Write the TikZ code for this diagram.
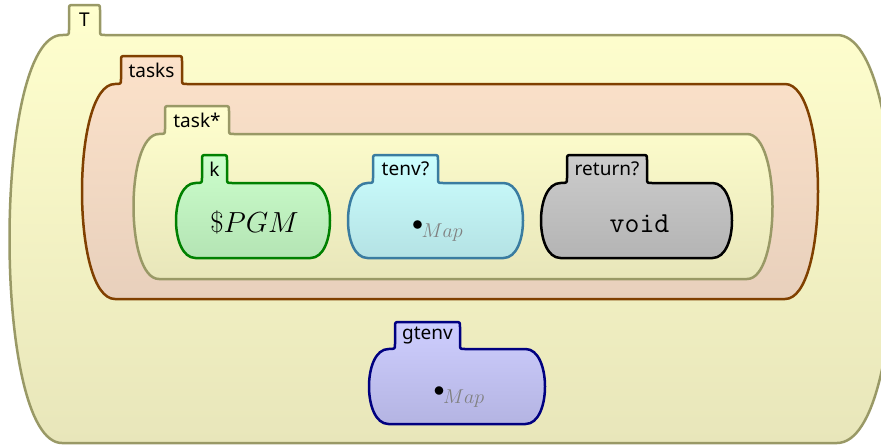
\RequirePackage{fix-cm}
\documentclass[tikz,border=0pt]{standalone}
\usepackage{fontspec}
\setsansfont{Noto Sans}
\definecolor{olivestroke}{RGB}{153,153,102}
\definecolor{yellowtop}{RGB}{255,255,206}
\definecolor{yellowbot}{RGB}{232,230,186}
\definecolor{brownstroke}{RGB}{128,64,0}
\definecolor{peachtop}{RGB}{252,226,202}
\definecolor{peachbot}{RGB}{232,208,188}
\definecolor{greenstroke}{RGB}{0,128,0}
\definecolor{greentop}{RGB}{204,255,204}
\definecolor{greenbot}{RGB}{180,228,180}
\definecolor{bluestroke}{RGB}{58,124,160}
\definecolor{cyantop}{RGB}{204,255,255}
\definecolor{cyanbot}{RGB}{180,226,228}
\definecolor{graytop}{RGB}{204,204,204}
\definecolor{graybot}{RGB}{180,180,180}
\definecolor{navystroke}{RGB}{0,0,128}
\definecolor{lavtop}{RGB}{206,206,255}
\definecolor{lavbot}{RGB}{180,180,226}
\definecolor{mapgray}{RGB}{128,128,128}
% #1 style, #2 tab left, #3 tab right, #4 tab top, #5 body top, #6 body bottom,
% #7 body left, #8 body right, #9 left bulge; right bulge in \cellrb
\def\cellrb{26}
\newcommand{\kcell}[9]{%
  \path[#1] (#2,#4+5) .. controls (#2,#4) .. (#2+5,#4) -- (#3-5,#4)
    .. controls (#3,#4) .. (#3,#4+5) -- (#3,#5-5) .. controls (#3,#5) .. (#3+5,#5)
    -- (#8,#5) .. controls (#8+\cellrb,#5) and (#8+\cellrb,#6) .. (#8,#6)
    -- (#7,#6) .. controls (#7-#9,#6) and (#7-#9,#5) .. (#7,#5)
    .. controls (#2,#5) .. (#2,#5-5) -- cycle;}
\newcommand{\mapdot}{\raisebox{6.5pt}{\fontsize{22}{22}\selectfont$\bullet$}\kern-1.5pt{\fontsize{20}{24}\selectfont\color{mapgray}$Map$}}
\begin{document}
\begin{tikzpicture}[x=1pt,y=-1pt,
  cellline/.style={line width=2.5pt, line join=round},
  Tcell/.style={cellline, draw=olivestroke, top color=yellowtop, bottom color=yellowbot},
  taskscell/.style={cellline, draw=brownstroke, top color=peachtop, bottom color=peachbot},
  taskcell/.style={cellline, draw=olivestroke, top color=yellowtop, bottom color=yellowbot},
  kcellst/.style={cellline, draw=greenstroke, top color=greentop, bottom color=greenbot},
  tenvcell/.style={cellline, draw=bluestroke, top color=cyantop, bottom color=cyanbot},
  retcell/.style={cellline, draw=black, top color=graytop, bottom color=graybot},
  gtenvcell/.style={cellline, draw=navystroke, top color=lavtop, bottom color=lavbot},
  lbl/.style={font=\sffamily\fontsize{19}{22}\selectfont, inner sep=0pt, text=black},
  content/.style={font=\fontsize{29}{34}\selectfont, inner sep=0pt, anchor=base},
  mapcontent/.style={inner sep=0pt, anchor=base}]
\useasboundingbox (0,0) rectangle (881,445);
\fill[white] (0,0) rectangle (881,445);
\clip (0,0) rectangle (881,445);
% cells
\def\cellrb{76}
\kcell{Tcell}{69}{100}{5}{35}{443}{62}{837}{70}
\def\cellrb{44}
\kcell{taskscell}{121}{182}{56}{84}{299}{115}{785}{44}
\def\cellrb{34}
\kcell{taskcell}{165}{229}{106}{134}{279}{159}{747}{34}
\def\cellrb{26}
\kcell{kcellst}{202}{227}{155}{183}{258}{195.5}{310.5}{26}
\kcell{tenvcell}{373}{438}{155}{183}{258}{367.5}{503.5}{26}
\kcell{retcell}{567}{647}{155}{183}{258}{560.5}{712.5}{26}
\kcell{gtenvcell}{395}{460}{322}{349}{424}{388.5}{525.5}{26}
% tab labels
\node[lbl] (labT) at (84.5,20) {T};
\node[lbl] (labtasks) at (151.5,70) {tasks};
\node[lbl] (labtask) at (197,120) {task*};
\node[lbl] (labk) at (214.5,169) {k};
\node[lbl] (labtenv) at (405.5,169) {tenv?};
\node[lbl] (labret) at (607,169) {return?};
\node[lbl] (labgtenv) at (427.5,336) {gtenv};
% contents
\node[content] (pgm) at (254.5,232) {$\$PGM$};
\node[content] (void) at (639.5,232) {\ttfamily void};
\node[mapcontent] (tenvmap) at (437.5,237) {\mapdot};
\node[mapcontent] (gtenvmap) at (459,403) {\mapdot};
\end{tikzpicture}
\end{document}
